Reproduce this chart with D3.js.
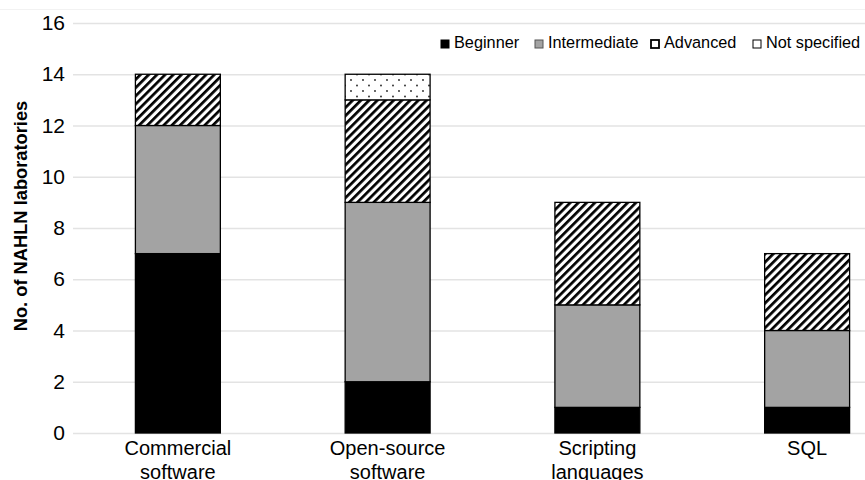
<!DOCTYPE html>
<html>
<head>
<meta charset="utf-8">
<script src="https://cdn.jsdelivr.net/npm/d3@7"></script>
<style>
  body { margin: 0; background: #fff; }
  svg { display: block; font-family: "Liberation Sans", Arial, sans-serif; }
</style>
</head>
<body>
<svg></svg>
<script>
// 数据
const categories = [["Commercial", "software"], ["Open-source", "software"], ["Scripting", "languages"], ["SQL"]];
const levels = ["Beginner", "Intermediate", "Advanced", "Not specified"];
const beginner = [7, 2, 1, 1];
const intermediate = [5, 7, 4, 3];
const advanced = [2, 4, 4, 3];
const notSpecified = [0, 1, 0, 0];
const yTicks = [0, 2, 4, 6, 8, 10, 12, 14, 16];

const W = 865, H = 480;
const svg = d3.select("svg").attr("width", W).attr("height", H);

// 图案
const defs = svg.append("defs");
const hatch = defs.append("pattern")
  .attr("id", "hatch")
  .attr("patternUnits", "userSpaceOnUse")
  .attr("width", 5.8).attr("height", 5.8)
  .attr("patternTransform", "rotate(45)");
hatch.append("rect").attr("width", 5.8).attr("height", 5.8).attr("fill", "#fff");
hatch.append("rect").attr("width", 2.7).attr("height", 5.8).attr("fill", "#000");

const dots = defs.append("pattern")
  .attr("id", "dots")
  .attr("patternUnits", "userSpaceOnUse")
  .attr("width", 12).attr("height", 11);
dots.append("rect").attr("width", 12).attr("height", 11).attr("fill", "#fff");
dots.append("circle").attr("cx", 3).attr("cy", 3).attr("r", 0.9).attr("fill", "#222");
dots.append("circle").attr("cx", 9).attr("cy", 8.5).attr("r", 0.9).attr("fill", "#222");

const fills = ["#000", "#a3a3a3", "url(#hatch)", "url(#dots)"];

// 比例尺
const x = d3.scaleBand()
  .domain(d3.range(categories.length))
  .range([73, 912])
  .paddingInner(0.595)
  .paddingOuter(0.2975);

const y = d3.scaleLinear().domain([0, 16]).range([433, 23]);

// 网格线
svg.append("line")
  .attr("x1", 0).attr("x2", W).attr("y1", 9.5).attr("y2", 9.5)
  .attr("stroke", "#f2f2f2").attr("stroke-width", 1);

const yAxis = svg.append("g")
  .attr("class", "y-axis")
  .attr("transform", "translate(73,0)")
  .call(d3.axisLeft(y).tickValues(yTicks).tickSize(0).tickPadding(8));
yAxis.select(".domain").remove();
yAxis.selectAll(".tick text")
  .attr("fill", "#000")
  .style("font-size", "21px")
  .style("font-family", "Liberation Sans, Arial, sans-serif");
yAxis.selectAll(".tick line")
  .attr("x2", W - 73)
  .attr("stroke", "#e3e3e3")
  .attr("stroke-width", 1.5);

// Y轴标题
svg.append("text")
  .attr("transform", "translate(27,216) rotate(-90)")
  .attr("text-anchor", "middle")
  .style("font-size", "18.3px")
  .style("font-weight", "bold")
  .text("No. of NAHLN laboratories");

// 堆叠数据
const rows = categories.map((c, i) => ({
  i: i,
  Beginner: beginner[i],
  Intermediate: intermediate[i],
  Advanced: advanced[i],
  "Not specified": notSpecified[i],
}));
const stacked = d3.stack().keys(levels)(rows);

svg.append("g")
  .selectAll("g")
  .data(stacked)
  .join("g")
  .attr("fill", (d, k) => fills[k])
  .selectAll("rect")
  .data((d) => d.filter((s) => s[1] - s[0] > 0))
  .join("rect")
  .attr("x", (d) => x(d.data.i))
  .attr("width", x.bandwidth())
  .attr("y", (d) => y(d[1]))
  .attr("height", (d) => y(d[0]) - y(d[1]))
  .attr("stroke", "#000")
  .attr("stroke-width", 1.3);

// X轴标签
const xl = svg.append("g")
  .selectAll("text")
  .data(categories)
  .join("text")
  .attr("x", (d, i) => x(i) + x.bandwidth() / 2)
  .attr("y", 455)
  .attr("text-anchor", "middle")
  .style("font-size", "20px");
xl.selectAll("tspan")
  .data((d) => d)
  .join("tspan")
  .attr("x", function () { return d3.select(this.parentNode).attr("x"); })
  .attr("dy", (d, j) => (j === 0 ? 0 : 24))
  .text((d) => d);

// 图例
const legendX = [441, 535, 651, 753];
const lg = svg.append("g")
  .selectAll("g")
  .data(levels)
  .join("g")
  .attr("transform", (d, k) => `translate(${legendX[k]},40)`);
lg.append("rect")
  .attr("width", 8).attr("height", 8)
  .attr("fill", (d, k) => (k === 0 ? "#000" : k === 1 ? "#a3a3a3" : "#fff"))
  .attr("stroke", (d, k) => (k === 1 ? "#555" : "#000"))
  .attr("stroke-width", (d, k) => (k === 2 ? 1.8 : 1));
lg.append("text")
  .attr("x", 13)
  .attr("y", 8)
  .style("font-size", "16.3px")
  .text((d) => d);
</script>
</body>
</html>
